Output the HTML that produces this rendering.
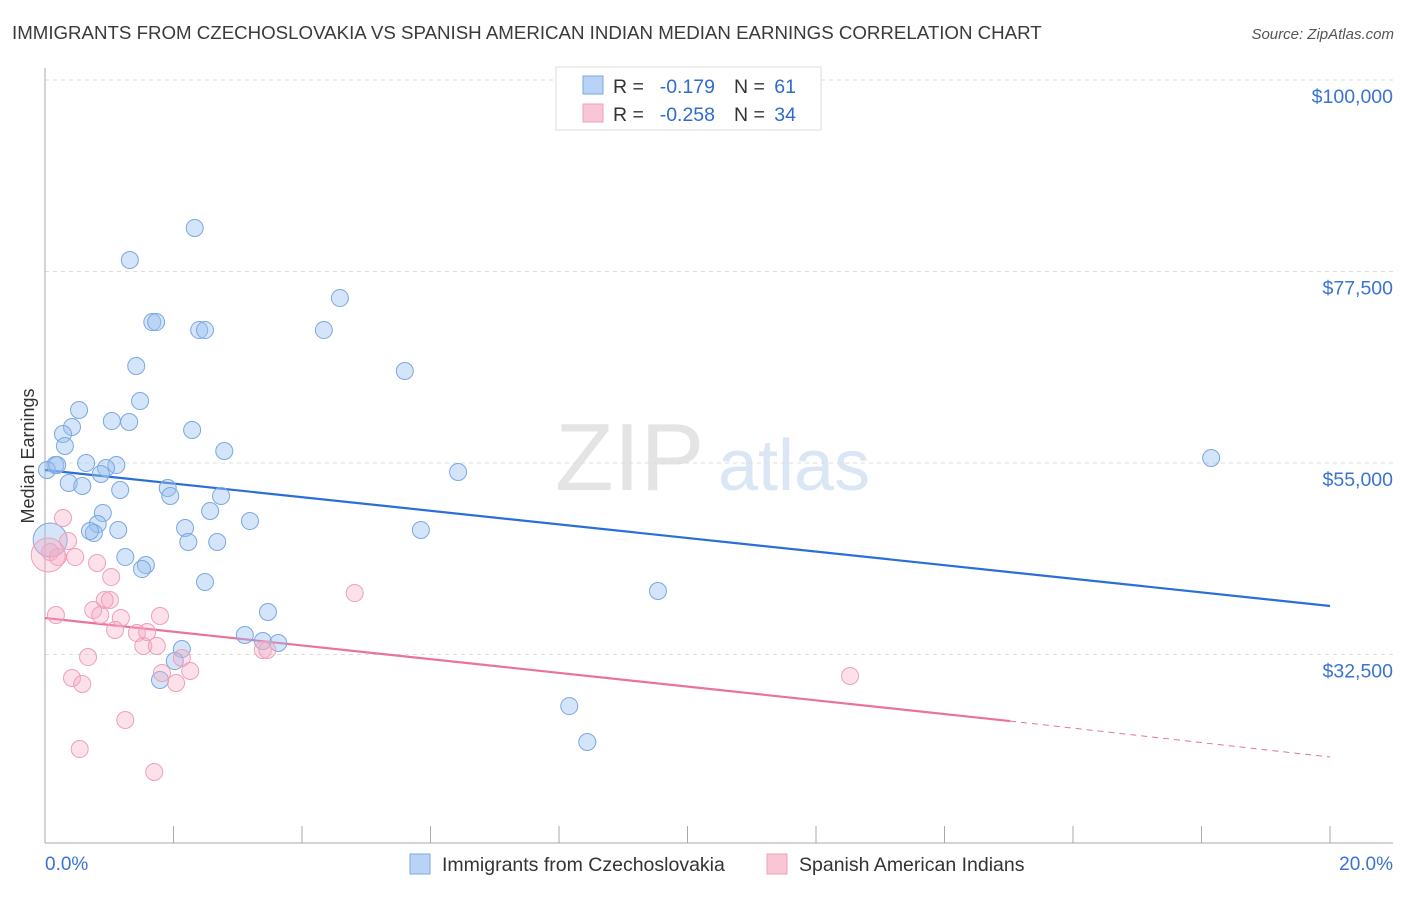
<!DOCTYPE html>
<html><head><meta charset="utf-8"><style>
body{margin:0;background:#fff;font-family:"Liberation Sans",sans-serif}
svg text{font-family:"Liberation Sans",sans-serif}
</style></head><body>
<svg width="1406" height="892" xmlns="http://www.w3.org/2000/svg">
<text x="12" y="39" font-size="18.7" fill="#3a3a3a">IMMIGRANTS FROM CZECHOSLOVAKIA VS SPANISH AMERICAN INDIAN MEDIAN EARNINGS CORRELATION CHART</text>
<text x="1394" y="39" font-size="15" fill="#555" font-style="italic" text-anchor="end">Source: ZipAtlas.com</text>
<text x="555" y="490" font-size="96" fill="#e4e4e4" font-family="Liberation Serif">ZIP</text>
<text x="718" y="490" font-size="72" fill="#dbe6f5">atlas</text>
<g id="grid"></g>
<g id="axes"></g>
<text transform="translate(34,456) rotate(-90)" font-size="18" fill="#333" text-anchor="middle">Median Earnings</text>
<text x="45" y="870" font-size="19" fill="#3b73d0">0.0%</text>
<text x="1393" y="870" font-size="19" fill="#3b73d0" text-anchor="end">20.0%</text>
<g id="trends"></g>
<g id="points"></g>
<g>
<rect x="556" y="67" width="265" height="63" fill="#fff" stroke="#ddd"/>
<rect x="583" y="76" width="20" height="18" fill="#b8d3f5" stroke="#7aa8e0"/>
<rect x="583" y="104" width="20" height="18" fill="#f9c6d6" stroke="#eea0b8"/>
<text x="613" y="93" font-size="19.5" fill="#333">R =</text>
<text x="715" y="93" font-size="19.5" fill="#2f6bd0" text-anchor="end">-0.179</text>
<text x="734" y="93" font-size="19.5" fill="#333">N =</text>
<text x="796" y="93" font-size="19.5" fill="#2f6bd0" text-anchor="end">61</text>
<text x="613" y="121" font-size="19.5" fill="#333">R =</text>
<text x="715" y="121" font-size="19.5" fill="#2f6bd0" text-anchor="end">-0.258</text>
<text x="734" y="121" font-size="19.5" fill="#333">N =</text>
<text x="796" y="121" font-size="19.5" fill="#2f6bd0" text-anchor="end">34</text>
</g>
<g>
<rect x="410" y="854" width="20" height="20" fill="#b8d3f5" stroke="#7aa8e0"/>
<text x="442" y="871" font-size="19.5" fill="#333">Immigrants from Czechoslovakia</text>
<rect x="767" y="854" width="20" height="20" fill="#f9c6d6" stroke="#eea0b8"/>
<text x="799" y="871" font-size="19.5" fill="#333">Spanish American Indians</text>
</g>
</svg>
<script>
const yTicks=[100000,77500,55000,32500];
const yTickLabels=["$100,000","$77,500","$55,000","$32,500"];
const xTicks=[0,2,4,6,8,10,12,14,16,18,20];
const blueX=[2.33,1.32,1.67,1.73,2.40,2.49,4.59,4.34,5.60,1.42,1.48,0.53,1.04,1.31,0.42,0.28,0.31,2.29,2.79,0.16,0.64,1.11,0.95,0.87,0.03,0.37,0.58,1.17,1.91,1.95,2.74,6.43,18.15,0.90,0.82,0.76,0.70,1.14,2.18,2.57,3.19,5.85,2.23,2.68,1.25,1.57,1.51,2.49,9.54,3.47,3.11,3.39,3.63,2.13,2.02,1.79,8.16,8.44,0.19,0.08];
const blueY=[82610,78850,71560,71560,70620,70620,74380,70620,65810,66400,62280,61230,59930,59820,59230,58410,57000,58880,56410,54760,55000,54760,54410,53710,54180,52650,52300,51830,52060,51120,51120,53940,55590,49120,47830,46770,47010,47130,47360,49360,48180,47130,45720,45720,43950,43010,42540,41020,39960,37490,34790,34080,33850,33140,31730,29500,26440,22220,54760,45950];
const blueR=[8.5,8.5,8.5,8.5,8.5,8.5,8.5,8.5,8.5,8.5,8.5,8.5,8.5,8.5,8.5,8.5,8.5,8.5,8.5,8.5,8.5,8.5,8.5,8.5,8.5,8.5,8.5,8.5,8.5,8.5,8.5,8.5,8.5,8.5,8.5,8.5,8.5,8.5,8.5,8.5,8.5,8.5,8.5,8.5,8.5,8.5,8.5,8.5,8.5,8.5,8.5,8.5,8.5,8.5,8.5,8.5,8.5,8.5,8.5,17];
const pinkX=[0.28,0.36,0.08,0.20,0.47,0.81,1.03,0.93,1.01,0.75,0.86,1.18,0.17,1.09,1.43,1.59,1.79,1.53,1.74,4.82,0.67,2.13,3.39,3.46,1.82,2.26,0.42,0.58,2.04,12.53,1.25,0.54,1.70,0.05];
const pinkY=[48540,45830,44540,43950,43950,43250,41600,38900,38900,37730,37140,36790,37140,35380,35020,35140,37020,33500,33500,39720,32200,32090,33030,33030,30330,30560,29740,29030,29150,29970,24800,21390,18690,44190];
const blueTrend=[[0,54180],[20,38200]];
const pinkTrend=[[0,36790],[15.02,24680]];
const pinkTrendExt=[[15.02,24680],[20,20450]];
const X=v=>45+v*64.25, Y=v=>80+(100000-v)*0.008511;
const NS="http://www.w3.org/2000/svg";
function mk(tag,attrs,parent){const e=document.createElementNS(NS,tag);for(const k in attrs)e.setAttribute(k,attrs[k]);document.getElementById(parent).appendChild(e);return e;}
yTicks.forEach((t,i)=>{
 const l=mk('line',{x1:45,x2:1393,y1:Y(t),y2:Y(t),stroke:'#ddd','stroke-dasharray':'4,4'},'grid');
 
 
 const tx=mk('text',{x:1393,y:Y(t)+23,'font-size':19.5,fill:'#3b73d0','text-anchor':'end'},'grid');
 tx.textContent=yTickLabels[i];
 
 
});
const ya=mk('line',{x1:45,x2:45,y1:68,y2:843,stroke:'#aaa'},'axes');


const xa=mk('line',{x1:45,x2:1393,y1:843,y2:843,stroke:'#aaa'},'axes');


xTicks.forEach(t=>{
 const l=mk('line',{x1:X(t),x2:X(t),y1:826,y2:843,stroke:'#aaa'},'axes');
 
 
});
function trend(d,color,name,dash){
 const l=mk('line',{x1:X(d[0][0]),y1:Y(d[0][1]),x2:X(d[1][0]),y2:Y(d[1][1]),stroke:color,'stroke-width':dash?1:2.2},'trends');
 if(dash)l.setAttribute('stroke-dasharray','6,5');
 
 
}
trend(blueTrend,'#2a6fd6','blue-trend-line');
trend(pinkTrend,'#e8739b','pink-trend-line');
trend(pinkTrendExt,'#e8739b','pink-trend-extension',true);
blueX.forEach((x,i)=>{
 const c=mk('circle',{cx:X(x),cy:Y(blueY[i]),r:blueR[i],fill:'rgba(150,190,240,0.4)',stroke:'#7aa8e0','stroke-width':1},'points');
 
 
});
pinkX.forEach((x,i)=>{
 const c=mk('circle',{cx:X(x),cy:Y(pinkY[i]),r:i==pinkX.length-1?17:8.5,fill:'rgba(245,170,195,0.35)',stroke:'#eea0b8','stroke-width':1},'points');
 
 
});
</script>
</body></html>
